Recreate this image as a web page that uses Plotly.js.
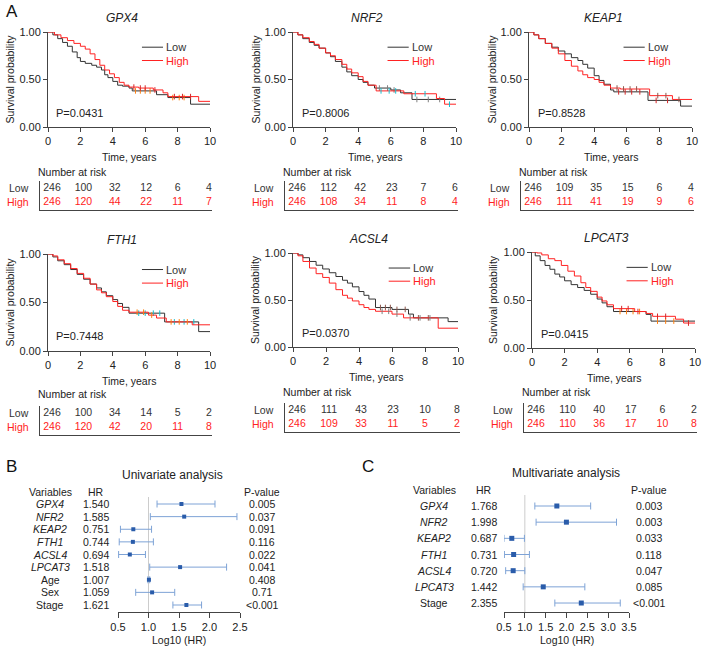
<!DOCTYPE html>
<html><head><meta charset="utf-8">
<script src="https://cdn.plot.ly/plotly-3.0.1.min.js"></script>
<style>html,body{margin:0;padding:0;background:#fff}#chart{width:707px;height:649px}</style>
</head><body><div id="chart"></div>
<script>
// ---------------- DATA ----------------
const genes = ['GPX4','NRF2','KEAP1','FTH1','ACSL4','LPCAT3'];
const pTexts = ['P=0.0431','P=0.8006','P=0.8528','P=0.7448','P=0.0370','P=0.0415'];
const maxTime = 10;
const riskTimes = [0,2,4,6,8,10];
const riskLow = [[246,100,32,12,6,4],[246,112,42,23,7,6],[246,109,35,15,6,4],[246,100,34,14,5,2],[246,111,43,23,10,8],[246,110,40,17,6,2]];
const riskHigh = [[246,120,44,22,11,7],[246,108,34,11,8,4],[246,111,41,19,9,6],[246,120,42,20,11,8],[246,109,33,11,5,2],[246,110,36,17,10,8]];

const gpx4LowT = [0,0.3,0.6,0.9,1.2,1.5,1.8,2.0,2.3,2.7,3.0,3.3,3.5,3.7,4.0,4.3,4.6,5.0,5.2,6.7,7.4,8.8];
const gpx4LowS = [1,0.97,0.93,0.89,0.85,0.79,0.73,0.69,0.67,0.65,0.63,0.60,0.55,0.52,0.48,0.44,0.43,0.41,0.38,0.34,0.31,0.24];
const gpx4HighT = [0,0.4,0.8,1.2,1.6,2.0,2.3,2.6,2.9,3.2,3.5,3.8,4.1,4.4,4.7,5.0,5.6,6.5,7.1,7.4,9.3];
const gpx4HighS = [1,0.97,0.94,0.91,0.88,0.85,0.82,0.77,0.71,0.65,0.60,0.56,0.52,0.47,0.44,0.42,0.41,0.39,0.36,0.32,0.27];

const nrf2LowT = [0,0.3,0.6,1.0,1.3,1.6,2.0,2.3,2.6,3.0,3.3,3.6,4.0,4.3,4.6,5.0,6.0,6.6,7.3];
const nrf2LowS = [1,0.97,0.93,0.89,0.86,0.83,0.78,0.74,0.69,0.63,0.58,0.54,0.50,0.47,0.44,0.41,0.39,0.36,0.29];
const nrf2HighT = [0,0.3,0.6,1.0,1.3,1.6,2.0,2.3,2.6,3.0,3.3,3.6,4.0,4.3,4.6,5.1,6.8,8.8,9.3];
const nrf2HighS = [1,0.97,0.94,0.90,0.87,0.83,0.78,0.75,0.71,0.66,0.61,0.57,0.53,0.48,0.44,0.38,0.35,0.30,0.24];

const keap1LowT = [0,0.3,0.6,1.0,1.4,1.8,2.2,2.6,3.0,3.3,3.6,4.0,4.3,4.6,5.0,5.2,7.3,9.3];
const keap1LowS = [1,0.97,0.93,0.88,0.84,0.80,0.77,0.73,0.70,0.66,0.62,0.54,0.49,0.45,0.39,0.37,0.28,0.22];
const keap1HighT = [0,0.3,0.6,1.0,1.4,1.8,2.2,2.6,3.0,3.3,3.6,4.0,4.3,4.6,5.0,5.6,7.4,8.8];
const keap1HighS = [1,0.97,0.93,0.88,0.83,0.77,0.70,0.64,0.59,0.55,0.52,0.50,0.47,0.44,0.41,0.40,0.33,0.29];

const fth1LowT = [0,0.3,0.6,1.0,1.4,1.8,2.2,2.6,3.0,3.3,3.6,4.0,4.3,4.6,5.0,7.2,9.3];
const fth1LowS = [1,0.97,0.93,0.89,0.84,0.79,0.74,0.69,0.65,0.61,0.57,0.53,0.49,0.45,0.39,0.30,0.20];
const fth1HighT = [0,0.3,0.6,1.0,1.4,1.8,2.2,2.6,3.0,3.3,3.6,4.0,4.3,4.6,5.0,6.2,6.7,7.3,8.9];
const fth1HighS = [1,0.98,0.94,0.90,0.85,0.80,0.75,0.69,0.63,0.60,0.56,0.51,0.46,0.42,0.40,0.37,0.34,0.30,0.27];

const acsl4LowT = [0,0.3,0.6,1.0,1.4,1.8,2.2,2.6,3.0,3.3,3.6,4.0,4.3,4.6,5.0,6.0,7.0,7.3,9.4];
const acsl4LowS = [1,0.98,0.95,0.91,0.87,0.83,0.79,0.75,0.71,0.68,0.64,0.59,0.55,0.51,0.42,0.40,0.35,0.31,0.27];
const acsl4HighT = [0,0.3,0.6,1.0,1.4,1.8,2.2,2.6,3.0,3.3,3.6,4.0,4.3,4.6,5.0,6.0,6.7,8.8];
const acsl4HighS = [1,0.97,0.91,0.84,0.78,0.74,0.68,0.61,0.55,0.52,0.49,0.45,0.42,0.40,0.38,0.35,0.31,0.20];

const lpcat3LowT = [0,0.2,0.5,0.8,1.1,1.4,1.7,2.0,2.4,2.8,3.2,3.6,4.0,4.3,4.6,5.0,7.0,7.3];
const lpcat3LowS = [1,0.96,0.91,0.86,0.82,0.77,0.74,0.70,0.66,0.63,0.60,0.56,0.51,0.47,0.43,0.38,0.35,0.28];
const lpcat3HighT = [0,0.3,0.6,1.0,1.4,1.8,2.2,2.6,3.0,3.3,3.6,4.0,4.3,4.6,5.0,6.3,7.0,7.4,8.8,9.3];
const lpcat3HighS = [1,0.99,0.97,0.93,0.91,0.86,0.80,0.75,0.68,0.63,0.59,0.53,0.49,0.45,0.41,0.38,0.36,0.33,0.30,0.26];

const censorLow = [[5.4,5.7,6.0,6.3,7.7,8.1,8.4],[5.3,5.8,6.2,7.6,8.3,9.0],[5.5,5.9,6.3,6.8,7.8,8.5],[5.6,6.0,6.5,6.9,7.8,8.4,9.0],[5.3,5.6,5.9,6.3,6.8,7.6,8.2],[5.4,5.8,6.2,6.6,7.7,8.2,8.7]];
const censorHigh = [[5.3,5.7,6.0,6.6,7.8,8.3,8.8],[5.4,5.9,6.3,7.5,8.1,9.6],[5.4,5.8,6.2,6.6,7.9,8.4,9.2],[5.5,5.9,6.4,7.6,8.1,8.6],[5.4,5.8,6.3,7.1,7.7,8.3],[5.5,5.9,6.5,7.7,8.2,9.6]];

const uniVars = ['GPX4','NFR2','KEAP2','FTH1','ACSL4','LPCAT3','Age','Sex','Stage'];
const uniHR = [1.540,1.585,0.751,0.744,0.694,1.518,1.007,1.059,1.621];
const uniLo = [1.14,1.03,0.54,0.52,0.51,1.02,0.99,0.79,1.40];
const uniHi = [2.09,2.45,1.05,1.08,0.95,2.28,1.02,1.43,1.87];
const uniP = ['0.005','0.037','0.091','0.116','0.022','0.041','0.408','0.71','<0.001'];
const uniItalic = [true,true,true,true,true,true,false,false,false];
const uniTicks = [0.5,1.0,1.5,2.0,2.5];

const multiVars = ['GPX4','NFR2','KEAP2','FTH1','ACSL4','LPCAT3','Stage'];
const multiHR = [1.768,1.998,0.687,0.731,0.720,1.442,2.355];
const multiLo = [1.24,1.27,0.50,0.51,0.54,0.96,1.72];
const multiHi = [2.58,3.20,0.99,1.11,1.00,2.44,3.29];
const multiP = ['0.003','0.003','0.033','0.118','0.047','0.085','<0.001'];
const multiItalic = [true,true,true,true,true,true,false];
const multiTicks = [0.5,1.0,1.5,2.0,2.5,3.0,3.5];

const curves = [
  [gpx4LowT,gpx4LowS,gpx4HighT,gpx4HighS],
  [nrf2LowT,nrf2LowS,nrf2HighT,nrf2HighS],
  [keap1LowT,keap1LowS,keap1HighT,keap1HighS],
  [fth1LowT,fth1LowS,fth1HighT,fth1HighS],
  [acsl4LowT,acsl4LowS,acsl4HighT,acsl4HighS],
  [lpcat3LowT,lpcat3LowS,lpcat3HighT,lpcat3HighS]
];

// ---------------- LAYOUT GEOMETRY (px) ----------------
const W=707,H=649;
const fx=p=>p/W, fy=p=>1-p/H;
const FONT='Liberation Sans, Arial, Helvetica, sans-serif';
const BLACK='#333333', RED='#ff2222', AXC='#444444';
const geo = [
  {x0:48,x1:210,y0:32,y1:127,tL:40,tTop:181,tBot:210,nar:172,ytx:9},
  {x0:293,x1:456,y0:32,y1:127,tL:285,tTop:181,tBot:210,nar:172,ytx:255},
  {x0:529,x1:692,y0:32,y1:127,tL:521,tTop:181,tBot:210,nar:172,ytx:491},
  {x0:48,x1:210,y0:254,y1:351,tL:40,tTop:406,tBot:435,nar:394,ytx:9},
  {x0:293,x1:458,y0:253,y1:347,tL:285,tTop:403,tBot:432,nar:392,ytx:255},
  {x0:532,x1:695,y0:252,y1:348,tL:524,tTop:403,tBot:432,nar:392,ytx:493}
];

const traces=[]; const layout={
  width:W,height:H,margin:{l:0,r:0,t:0,b:0},paper_bgcolor:'#fff',plot_bgcolor:'rgba(0,0,0,0)',
  showlegend:false,font:{family:FONT,size:11,color:'#222'},annotations:[],shapes:[]
};
const axName=(k,a)=> a===1? k+'axis' : k+'axis'+a;
const axRef=(k,a)=> a===1? k : k+a;
const stepAt=(T,S,c)=>{let v=S[0];for(let j=0;j<T.length;j++){if(T[j]<=c)v=S[j];}return v;};

genes.forEach((g,i)=>{
  const G=geo[i], a=i+1, b=i+7;
  const [lt,ls,ht,hs]=curves[i];
  const groups=[[lt,ls,BLACK,censorLow[i],'Low'],[ht,hs,RED,censorHigh[i],'High']];
  groups.forEach(([T,S,col,C,nm])=>{
    traces.push({type:'scatter',mode:'lines',x:T.concat([maxTime]),y:S.concat([S[S.length-1]]),
      line:{shape:'hv',color:col,width:1},xaxis:axRef('x',a),yaxis:axRef('y',a),hoverinfo:'skip',name:nm});
    traces.push({type:'scatter',mode:'markers',x:C,y:C.map(c=>stepAt(T,S,c)),
      marker:{symbol:'line-ns-open',size:4,line:{color:col,width:1}},xaxis:axRef('x',a),yaxis:axRef('y',a),hoverinfo:'skip'});
  });
  layout[axName('x',a)]={domain:[fx(G.x0),fx(G.x1)],range:[0,maxTime],anchor:axRef('y',a),showline:true,linecolor:AXC,linewidth:1,
    ticks:'outside',ticklen:4,tickcolor:AXC,tick0:0,dtick:2,showgrid:false,zeroline:false,tickfont:{size:11,color:'#222'}};
  layout[axName('y',a)]={domain:[fy(G.y1),fy(G.y0)],range:[0,1],anchor:axRef('x',a),showline:true,linecolor:AXC,linewidth:1,
    ticks:'outside',ticklen:4,tickcolor:AXC,tickvals:[0,0.5,1],tickformat:'.2f',showgrid:false,zeroline:false,tickfont:{size:11,color:'#222'}};
  const xd=axRef('x',a)+' domain', yd=axRef('y',a)+' domain';
  const ph=G.y1-G.y0;
  layout.annotations.push(
    {xref:xd,yref:yd,x:0.455,y:1+14/ph,text:'<i>'+g+'</i>',showarrow:false,font:{size:12,color:'#222'},xanchor:'center',yanchor:'middle'},
    {xref:'paper',yref:'paper',x:fx(G.ytx),y:fy((G.y0+G.y1)/2),text:'Survival probability',textangle:-90,showarrow:false,font:{size:10.5,color:'#222'},xanchor:'center',yanchor:'middle'},
    {xref:xd,yref:'paper',x:0.5,y:fy(G.y1+30),text:'Time, years',showarrow:false,font:{size:10.5,color:'#222'},xanchor:'center',yanchor:'middle'},
    {xref:xd,yref:yd,x:0.04,y:0.15,text:pTexts[i],showarrow:false,font:{size:11,color:'#222'},xanchor:'left',yanchor:'middle'},
    {xref:xd,yref:yd,x:0.715,y:0.84,text:'Low',showarrow:false,font:{size:11,color:BLACK},xanchor:'left',yanchor:'middle'},
    {xref:xd,yref:yd,x:0.715,y:0.70,text:'High',showarrow:false,font:{size:11,color:RED},xanchor:'left',yanchor:'middle'}
  );
  layout.shapes.push(
    {type:'line',xref:xd,yref:yd,x0:0.58,x1:0.71,y0:0.84,y1:0.84,line:{color:BLACK,width:1}},
    {type:'line',xref:xd,yref:yd,x0:0.58,x1:0.71,y0:0.70,y1:0.70,line:{color:RED,width:1}}
  );
  // risk table
  const R=G.x1+2, s=(R-G.tL-15)/10;
  layout[axName('x',b)]={domain:[fx(G.tL),fx(R)],range:[-12/s,maxTime+3/s],anchor:axRef('y',b),showline:true,linecolor:AXC,linewidth:1,
    ticks:'',showticklabels:false,showgrid:false,zeroline:false};
  layout[axName('y',b)]={domain:[fy(G.tBot),fy(G.tTop)],range:[-0.05,2],anchor:axRef('x',b),showline:true,linecolor:AXC,linewidth:1,
    ticks:'',showticklabels:false,showgrid:false,zeroline:false};
  traces.push({type:'scatter',mode:'text',x:riskTimes,y:riskTimes.map(()=>1.5),text:riskLow[i].map(String),textfont:{size:10.5,color:BLACK,family:FONT},
    xaxis:axRef('x',b),yaxis:axRef('y',b),cliponaxis:false,hoverinfo:'skip'});
  traces.push({type:'scatter',mode:'text',x:riskTimes,y:riskTimes.map(()=>0.5),text:riskHigh[i].map(String),textfont:{size:10.5,color:RED,family:FONT},
    xaxis:axRef('x',b),yaxis:axRef('y',b),cliponaxis:false,hoverinfo:'skip'});
  layout.annotations.push(
    {xref:'paper',yref:axRef('y',b),x:fx(G.tL-9),y:1.5,text:'Low',showarrow:false,font:{size:10.5,color:BLACK},xanchor:'right',yanchor:'middle'},
    {xref:'paper',yref:axRef('y',b),x:fx(G.tL-9),y:0.5,text:'High',showarrow:false,font:{size:10.5,color:RED},xanchor:'right',yanchor:'middle'},
    {xref:'paper',yref:'paper',x:fx(G.tL-4),y:fy(G.nar),text:'Number at risk',showarrow:false,font:{size:10.5,color:'#222'},xanchor:'left',yanchor:'middle'}
  );
});

// ---------------- FOREST PLOTS ----------------
const forests=[
  {a:13,vars:uniVars,hr:uniHR,lo:uniLo,hi:uniHi,p:uniP,it:uniItalic,ticks:uniTicks,
   x0:118,x1:240,top:497,bot:612,row0:504,rowStep:12.625,head:492,cVar:50,cHR:96,cP:262,title:'Univariate analysis',tx:172,ty:475,msize:4,xl:[0.5,2.5]},
  {a:14,vars:multiVars,hr:multiHR,lo:multiLo,hi:multiHi,p:multiP,it:multiItalic,ticks:multiTicks,
   x0:504,x1:629,top:495,bot:612,row0:506,rowStep:16.17,head:490,cVar:434,cHR:484,cP:649,title:'Multivariate analysis',tx:566,ty:473,msize:5,xl:[0.5,3.5]}
];
forests.forEach(F=>{
  const n=F.vars.length;
  const yv=F.vars.map((_,k)=>n-1-k);
  const lastRow=F.row0+(n-1)*F.rowStep;
  const yLo=-(F.bot-lastRow)/F.rowStep, yHi=(lastRow-F.top)/F.rowStep;
  const xa=axRef('x',F.a), ya=axRef('y',F.a);
  layout[axName('x',F.a)]={domain:[fx(F.x0),fx(F.x1)],range:F.xl,anchor:ya,showline:true,linecolor:AXC,linewidth:1,
    ticks:'outside',ticklen:5,tickcolor:AXC,tickvals:F.ticks,tickformat:'.1f',showgrid:false,zeroline:false,tickfont:{size:11,color:'#222'}};
  layout[axName('y',F.a)]={domain:[fy(F.bot),fy(F.top)],range:[yLo,yHi],anchor:xa,visible:false,showgrid:false,zeroline:false};
  layout.shapes.push({type:'line',xref:xa,yref:ya+' domain',x0:1,x1:1,y0:0,y1:1,line:{color:'#cccccc',width:1},layer:'below'});
  traces.push({type:'scatter',mode:'markers',x:F.hr,y:yv,xaxis:xa,yaxis:ya,hoverinfo:'skip',
    marker:{symbol:'square',size:F.msize,color:'#2a5caa'},
    error_x:{type:'data',symmetric:false,array:F.hr.map((h,k)=>F.hi[k]-h),arrayminus:F.hr.map((h,k)=>h-F.lo[k]),color:'#7ea3d6',thickness:1,width:3.5}});
  F.vars.forEach((v,k)=>{
    layout.annotations.push(
      {xref:'paper',yref:ya,x:fx(F.cVar),y:yv[k],text:F.it[k]?'<i>'+v+'</i>':v,showarrow:false,font:{size:10.5,color:'#222'},xanchor:'center',yanchor:'middle'},
      {xref:'paper',yref:ya,x:fx(F.cHR),y:yv[k],text:F.hr[k].toFixed(3),showarrow:false,font:{size:10.5,color:'#222'},xanchor:'center',yanchor:'middle'},
      {xref:'paper',yref:ya,x:fx(F.cP),y:yv[k],text:F.p[k],showarrow:false,font:{size:10.5,color:'#222'},xanchor:'center',yanchor:'middle'}
    );
  });
  layout.annotations.push(
    {xref:'paper',yref:'paper',x:fx(F.cVar),y:fy(F.head),text:'Variables',showarrow:false,font:{size:10.5,color:'#222'},xanchor:'center',yanchor:'middle'},
    {xref:'paper',yref:'paper',x:fx(F.cHR),y:fy(F.head),text:'HR',showarrow:false,font:{size:10.5,color:'#222'},xanchor:'center',yanchor:'middle'},
    {xref:'paper',yref:'paper',x:fx(F.cP),y:fy(F.head),text:'P-value',showarrow:false,font:{size:10.5,color:'#222'},xanchor:'center',yanchor:'middle'},
    {xref:'paper',yref:'paper',x:fx(F.tx),y:fy(F.ty),text:F.title,showarrow:false,font:{size:12,color:'#222'},xanchor:'center',yanchor:'middle'},
    {xref:xa+' domain',yref:'paper',x:0.5,y:fy(640),text:'Log10 (HR)',showarrow:false,font:{size:10.5,color:'#222'},xanchor:'center',yanchor:'middle'}
  );
});

// panel letters
layout.annotations.push(
  {xref:'paper',yref:'paper',x:fx(4),y:fy(12),text:'A',showarrow:false,font:{size:17,color:'#111'},xanchor:'left',yanchor:'middle'},
  {xref:'paper',yref:'paper',x:fx(4),y:fy(466),text:'B',showarrow:false,font:{size:17,color:'#111'},xanchor:'left',yanchor:'middle'},
  {xref:'paper',yref:'paper',x:fx(360),y:fy(466),text:'C',showarrow:false,font:{size:17,color:'#111'},xanchor:'left',yanchor:'middle'}
);

Plotly.newPlot('chart',traces,layout,{staticPlot:true,displayModeBar:false});
</script></body></html>
